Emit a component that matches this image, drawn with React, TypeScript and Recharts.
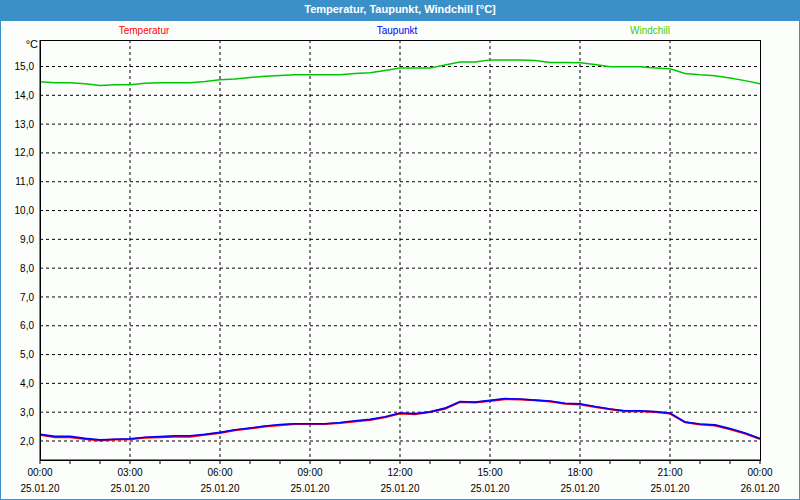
import React from 'react'
import { LineChart, Line, XAxis, YAxis, CartesianGrid } from 'recharts'

// Stunden ab 25.01.20 00:00, Messwerte alle 30 min
const HOURS = [
  0, 0.5, 1, 1.5, 2, 2.5, 3, 3.5, 4, 4.5, 5, 5.5, 6, 6.5, 7, 7.5, 8, 8.5, 9, 9.5,
  10, 10.5, 11, 11.5, 12, 12.5, 13, 13.5, 14, 14.5, 15, 15.5, 16, 16.5, 17, 17.5,
  18, 18.5, 19, 19.5, 20, 20.5, 21, 21.5, 22, 22.5, 23, 23.5, 24,
]

const TEMPERATUR = [
  2.22, 2.13, 2.13, 2.07, 2.02, 2.05, 2.06, 2.11, 2.13, 2.15, 2.15, 2.22, 2.28, 2.37, 2.43, 2.50,
  2.55, 2.59, 2.59, 2.59, 2.62, 2.68, 2.73, 2.82, 2.95, 2.93, 3.01, 3.12, 3.35, 3.34, 3.39, 3.45,
  3.44, 3.41, 3.37, 3.29, 3.27, 3.18, 3.10, 3.03, 3.03, 3.01, 2.95, 2.65, 2.57, 2.54, 2.41, 2.26,
  2.07,
]

const TAUPUNKT = [
  2.23, 2.16, 2.16, 2.09, 2.04, 2.06, 2.08, 2.13, 2.15, 2.18, 2.18, 2.23, 2.30, 2.39, 2.45, 2.52,
  2.57, 2.60, 2.60, 2.60, 2.64, 2.70, 2.75, 2.84, 2.97, 2.95, 3.01, 3.14, 3.37, 3.35, 3.41, 3.47,
  3.46, 3.42, 3.39, 3.31, 3.29, 3.20, 3.11, 3.05, 3.05, 3.02, 2.97, 2.66, 2.59, 2.56, 2.43, 2.28,
  2.09,
]

const WINDCHILL = [
  14.47, 14.44, 14.44, 14.40, 14.34, 14.37, 14.37, 14.42, 14.44, 14.44, 14.44, 14.48, 14.54, 14.57,
  14.62, 14.66, 14.69, 14.71, 14.71, 14.71, 14.71, 14.76, 14.78, 14.86, 14.95, 14.95, 14.95, 15.05,
  15.16, 15.16, 15.23, 15.23, 15.23, 15.21, 15.14, 15.14, 15.13, 15.07, 14.99, 14.99, 14.99, 14.95,
  14.92, 14.76, 14.71, 14.68, 14.60, 14.51, 14.40,
]

const Y_TICKS = [2, 3, 4, 5, 6, 7, 8, 9, 10, 11, 12, 13, 14, 15]
const X_TICKS = [0, 1, 2, 3, 4, 5, 6, 7, 8, 9, 10, 11, 12, 13, 14, 15, 16, 17, 18, 19, 20, 21, 22, 23, 24]
const X_GRID = [3, 6, 9, 12, 15, 18, 21]
const DATE_START = '25.01.20'
const DATE_END = '26.01.20'

const data = HOURS.map((h, i) => ({
  h,
  temperatur: TEMPERATUR[i],
  taupunkt: TAUPUNKT[i],
  windchill: WINDCHILL[i],
}))

const FONT = '"Liberation Sans", Arial, sans-serif'
const BLUE_FRAME = '#3C90C8'

const XTick = (props: any) => {
  const { x, y, payload } = props
  const h = payload.value as number
  if (h % 3 !== 0) return null
  const time = `${String(h % 24).padStart(2, '0')}:00`
  const date = h === 24 ? DATE_END : DATE_START
  return (
    <g>
      <text x={x} y={y + 10} textAnchor="middle" fontSize={10} fontFamily={FONT} fill="#000">{time}</text>
      <text x={x} y={y + 26} textAnchor="middle" fontSize={10} fontFamily={FONT} fill="#000">{date}</text>
    </g>
  )
}

const legendStyle = (left: number, color: string): React.CSSProperties => ({
  position: 'absolute', top: 25, left, width: 100, marginLeft: -50, textAlign: 'center',
  fontSize: 10, fontFamily: FONT, color,
})

export default function App() {
  return (
    <div style={{
      position: 'absolute', left: 0, top: 0, width: 800, height: 500,
      background: '#FCFEFC', overflow: 'hidden',
    }}>
      <LineChart width={800} height={500} data={data} margin={{ top: 40, right: 40, left: 0, bottom: 0 }}>
        <CartesianGrid
          stroke="#000"
          strokeDasharray="3 3"
          horizontalValues={Y_TICKS}
          verticalValues={X_GRID}
        />
        <XAxis
          dataKey="h"
          type="number"
          domain={[0, 24]}
          ticks={X_TICKS}
          interval={0}
          height={40}
          tickSize={4}
          axisLine={{ stroke: '#000' }}
          tickLine={{ stroke: '#000' }}
          tick={<XTick />}
        />
        <YAxis
          type="number"
          domain={[1.34, 15.92]}
          ticks={Y_TICKS}
          interval={0}
          width={40}
          tickSize={4}
          tickLine={false}
          axisLine={{ stroke: '#000' }}
          tick={{ fontSize: 10, fontFamily: FONT, fill: '#000' }}
          tickFormatter={v => v.toFixed(1).replace('.', ',')}
          allowDataOverflow
        />
        <Line dataKey="windchill" stroke="#00C800" strokeWidth={1.5} dot={false} isAnimationActive={false} />
        <Line dataKey="temperatur" stroke="#FF0000" strokeWidth={2} dot={false} isAnimationActive={false} />
        <Line dataKey="taupunkt" stroke="#0000FF" strokeWidth={1.6} dot={false} isAnimationActive={false} />
      </LineChart>

      {/* Titelleiste */}
      <div style={{
        position: 'absolute', left: 0, top: 0, width: 800, height: 21, background: BLUE_FRAME,
        color: '#fff', fontWeight: 700, fontSize: 11, fontFamily: FONT, textAlign: 'center', lineHeight: '19px',
      }}>
        Temperatur, Taupunkt, Windchill [°C]
      </div>

      <div style={legendStyle(144, '#FF0000')}>Temperatur</div>
      <div style={legendStyle(397, '#0000FF')}>Taupunkt</div>
      <div style={legendStyle(650, '#44CC00')}>Windchill</div>

      <div style={{ position: 'absolute', left: 18, top: 38, width: 20, textAlign: 'right', fontSize: 11, fontFamily: FONT }}>°C</div>

      {/* Rahmen Plotbereich */}
      <div style={{
        position: 'absolute', left: 40, top: 40, width: 721, height: 421,
        border: '1px solid #000', boxSizing: 'border-box', pointerEvents: 'none',
      }} />

      {/* Fensterrahmen */}
      <div style={{
        position: 'absolute', left: 0, top: 0, width: 800, height: 500,
        borderLeft: `1px solid ${BLUE_FRAME}`, borderRight: `1px solid ${BLUE_FRAME}`,
        borderBottom: `1px solid ${BLUE_FRAME}`, boxSizing: 'border-box', pointerEvents: 'none',
      }} />
    </div>
  )
}
